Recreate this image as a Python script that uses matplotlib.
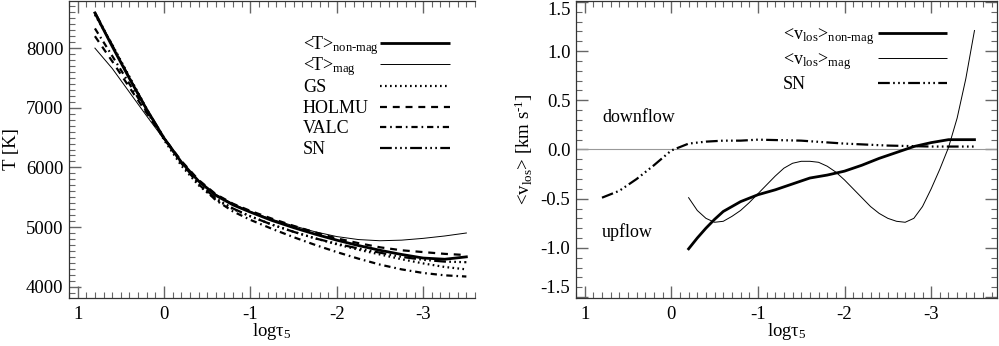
"""Mean temperature and LOS velocity stratifications vs. optical depth."""

import matplotlib
matplotlib.use("Agg")
import matplotlib.pyplot as plt
from matplotlib.ticker import MultipleLocator, FormatStrFormatter

plt.rcParams["font.family"] = ["Liberation Serif", "DejaVu Serif"]
plt.rcParams["mathtext.fontset"] = "custom"
plt.rcParams["mathtext.rm"] = "Liberation Serif"
plt.rcParams["mathtext.it"] = "Liberation Serif"
plt.rcParams["mathtext.default"] = "rm"
plt.rcParams["axes.unicode_minus"] = False
plt.rcParams["lines.scale_dashes"] = False

# ---- left panel: temperature [K] vs log tau_5 ----
log_tau = [0.8, 0.6, 0.4, 0.2, 0.0, -0.2, -0.4, -0.6, -0.8, -1.0, -1.25, -1.5,
           -1.75, -2.0, -2.25, -2.5, -2.75, -3.0, -3.25, -3.5]
t_nonmag = [8590, 8030, 7490, 6970, 6490, 6090, 5770, 5530, 5370, 5250, 5110, 4990,
            4880, 4780, 4690, 4610, 4540, 4480, 4460, 4500]
t_mag = [8000, 7660, 7260, 6860, 6470, 6090, 5780, 5550, 5390, 5260, 5130, 5020,
         4920, 4840, 4790, 4770, 4780, 4810, 4850, 4900]
t_gs = [8560, 8060, 7520, 6980, 6460, 6030, 5700, 5460, 5300, 5180, 5040, 4920,
        4810, 4710, 4620, 4540, 4460, 4390, 4330, 4290]
t_holmu = [8200, 7780, 7340, 6910, 6490, 6110, 5790, 5550, 5390, 5270, 5140, 5020,
           4910, 4810, 4730, 4660, 4610, 4580, 4550, 4530]
t_valc = [8330, 7870, 7400, 6930, 6490, 6070, 5720, 5450, 5260, 5120, 4970, 4830,
          4700, 4580, 4470, 4370, 4290, 4230, 4190, 4170]
t_sn = [8600, 8050, 7500, 6970, 6500, 6080, 5730, 5480, 5310, 5180, 5040, 4920,
        4810, 4720, 4640, 4570, 4500, 4450, 4420, 4410]

# ---- right panel: LOS velocity [km/s] ----
sn_tau = [0.8, 0.6, 0.4, 0.2, 0.0, -0.2, -0.4, -0.6, -0.8, -1.0, -1.5, -2.0, -2.5,
          -3.0, -3.5]
v_sn = [-0.49, -0.42, -0.30, -0.16, -0.01, 0.06, 0.08, 0.09, 0.09, 0.10, 0.09, 0.06,
        0.04, 0.03, 0.03]
nonmag_tau = [-0.2, -0.3, -0.4, -0.5, -0.6, -0.7, -0.8, -1.0, -1.2, -1.4, -1.6, -1.8,
              -2.0, -2.2, -2.4, -2.6, -2.8, -3.0, -3.2, -3.4, -3.5]
v_nonmag = [-1.01, -0.90, -0.80, -0.71, -0.63, -0.58, -0.53, -0.46, -0.41, -0.35, -0.29,
            -0.26, -0.22, -0.16, -0.09, -0.03, 0.03, 0.07, 0.10, 0.10, 0.10]
mag_tau = [-0.2, -0.3, -0.4, -0.5, -0.6, -0.7, -0.8, -0.9, -1.0, -1.1, -1.2, -1.3, -1.4,
           -1.5, -1.6, -1.7, -1.8, -1.9, -2.0, -2.1, -2.2, -2.3, -2.4, -2.5, -2.6,
           -2.7, -2.8, -2.9, -3.0, -3.1, -3.2, -3.3, -3.4, -3.5]
v_mag = [-0.49, -0.62, -0.70, -0.74, -0.73, -0.68, -0.62, -0.54, -0.45, -0.36, -0.27,
         -0.19, -0.14, -0.12, -0.12, -0.13, -0.17, -0.23, -0.31, -0.40, -0.49, -0.58,
         -0.65, -0.70, -0.73, -0.74, -0.70, -0.58, -0.40, -0.20, 0.02, 0.32, 0.72, 1.21]

FS = 13.5      # tick / axis labels
FS_TXT = 13    # legend and annotations
DOT = (0, (1.2, 2.4))
DASH = (0, (5.0, 4.2))
DASHDOT = (0, (4.5, 2.8, 1.2, 2.8))
DASH3DOT = (0, (8.5, 2.4, 1.2, 2.4, 1.2, 2.4, 1.2, 2.4))


def style_axes(ax, ymajor, yminor, right=True):
    ax.xaxis.set_major_locator(MultipleLocator(1))
    ax.xaxis.set_minor_locator(MultipleLocator(0.1))
    ax.yaxis.set_major_locator(MultipleLocator(ymajor))
    ax.yaxis.set_minor_locator(MultipleLocator(yminor))
    ax.tick_params(which="both", direction="in", top=True, right=right,
                   color="#666666", labelsize=FS)
    ax.tick_params(which="major", length=8.5, width=1.0)
    ax.tick_params(which="minor", length=4.3, width=0.8)
    ax.tick_params(axis="x", pad=6)
    ax.tick_params(axis="y", pad=4)
    for sp in ax.spines.values():
        sp.set_color("#333333")
        sp.set_linewidth(0.9)
    ax.spines["right"].set_visible(right)


def legend_rows(ax, rows, x_text, x0, x1):
    for label, y, kw in rows:
        ax.plot([x0, x1], [y, y], transform=ax.transAxes, color="black",
                solid_capstyle="butt", dash_capstyle="butt", clip_on=False, **kw)
        ax.text(x_text, y - 0.02, label, transform=ax.transAxes, fontsize=FS_TXT,
                va="baseline", ha="left")


fig = plt.figure(figsize=(9.99, 3.46), dpi=100)
ax1 = fig.add_axes([69 / 999, 48 / 346, 406 / 999, 297 / 346])
ax2 = fig.add_axes([576 / 999, 48 / 346, 421 / 999, 297 / 346])

# left panel
ax1.plot(log_tau, t_nonmag, color="black", lw=2.0)
ax1.plot(log_tau, t_mag, color="black", lw=0.7)
ax1.plot(log_tau, t_gs, color="black", lw=1.6, linestyle=DOT)
ax1.plot(log_tau, t_holmu, color="black", lw=1.6, linestyle=DASH)
ax1.plot(log_tau, t_valc, color="black", lw=1.6, linestyle=DASHDOT)
ax1.plot(log_tau, t_sn, color="black", lw=1.6, linestyle=DASH3DOT)
ax1.set_xlim(1.1, -3.6)
ax1.set_ylim(3810, 8790)
style_axes(ax1, 1000, 100, right=False)
ax1.set_xlabel(r"log$\tau_5$", fontsize=FS, labelpad=-2)
ax1.set_ylabel("T [K]", fontsize=FS, labelpad=4)

legend_rows(ax1, [
    (r"<T>$_{\text{non-mag}}$", 0.859, dict(lw=2.0)),
    (r"<T>$_{\text{mag}}$", 0.788, dict(lw=0.7)),
    ("GS", 0.714, dict(lw=1.6, linestyle=DOT)),
    ("HOLMU", 0.643, dict(lw=1.6, linestyle=DASH)),
    ("VALC", 0.576, dict(lw=1.6, linestyle=DASHDOT)),
    ("SN", 0.505, dict(lw=1.6, linestyle=DASH3DOT)),
], 0.576, 0.766, 0.938)

# right panel
ax2.axhline(0.0, color="#999999", lw=0.8)
ax2.plot(sn_tau, v_sn, color="black", lw=1.6, linestyle=DASH3DOT)
ax2.plot(nonmag_tau, v_nonmag, color="black", lw=2.0)
ax2.plot(mag_tau, v_mag, color="black", lw=0.7)
ax2.set_xlim(1.1, -3.76)
ax2.set_ylim(-1.51, 1.51)
style_axes(ax2, 0.5, 0.1)
ax2.yaxis.set_major_formatter(FormatStrFormatter("%.1f"))
ax2.set_xlabel(r"log$\tau_5$", fontsize=FS, labelpad=-2)
ax2.set_ylabel(r"<v$_{\text{los}}$> [km s$^{\text{-1}}$]", fontsize=FS, labelpad=4)

legend_rows(ax2, [
    (r"<v$_{\text{los}}$>$_{\text{non-mag}}$", 0.892, dict(lw=2.0)),
    (r"<v$_{\text{los}}$>$_{\text{mag}}$", 0.808, dict(lw=0.7)),
    ("SN", 0.724, dict(lw=1.6, linestyle=DASH3DOT)),
], 0.492, 0.717, 0.881)

ax2.text(0.062, 0.593, "downflow", transform=ax2.transAxes, fontsize=FS_TXT, va="baseline")
ax2.text(0.062, 0.205, "upflow", transform=ax2.transAxes, fontsize=FS_TXT, va="baseline")

fig.canvas.draw()
ylabels = ax2.get_yticklabels()
ylabels[1].set_va("bottom")
ylabels[-2].set_va("top")

fig.savefig("out.png", dpi=100)
